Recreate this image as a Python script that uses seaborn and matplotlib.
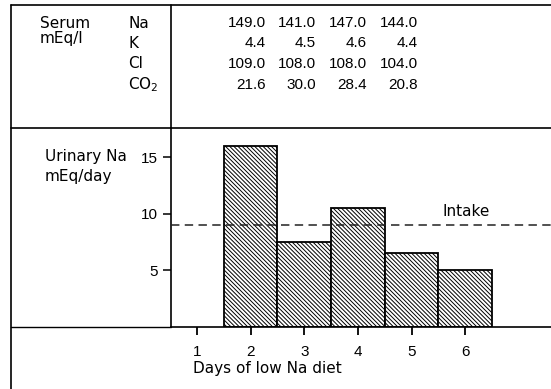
import matplotlib
matplotlib.use("Agg")
import matplotlib.pyplot as plt
import seaborn as sns
import pandas as pd
from matplotlib.lines import Line2D

# ---- data ----
days = [2, 3, 4, 5, 6]
urinary_na = [16.0, 7.5, 10.5, 6.5, 5.0]
intake = 9.0
x_ticks = [1, 2, 3, 4, 5, 6]
y_ticks = [5, 10, 15]
serum_labels = ["Na", "K", "Cl", "CO$_2$"]
serum_na = ["149.0", "141.0", "147.0", "144.0"]
serum_k = ["4.4", "4.5", "4.6", "4.4"]
serum_cl = ["109.0", "108.0", "108.0", "104.0"]
serum_co2 = ["21.6", "30.0", "28.4", "20.8"]

W, H = 551, 389
sns.set_theme(style="white")
plt.rcParams['font.family'] = ['Liberation Sans', 'DejaVu Sans']
plt.rcParams['hatch.linewidth'] = 0.7
plt.rcParams['mathtext.fontset'] = 'dejavusans'
plt.rcParams['text.color'] = 'black'
plt.rcParams['axes.labelcolor'] = 'black'
plt.rcParams['xtick.color'] = 'black'
plt.rcParams['ytick.color'] = 'black'
FS_NUM = 11
FS_TXT = 11
WORD = ['DejaVu Sans']

fig = plt.figure(figsize=(W / 100, H / 100), dpi=100)
fig.patch.set_facecolor("white")


def fx(px):
    return px / W


def fy(py):
    return 1 - py / H


x0, x1 = 171, 551
y_top, y_bot = 128, 327
ax = fig.add_axes([fx(x0), fy(y_bot), fx(x1) - fx(x0), fy(y_top) - fy(y_bot)])
ax.set_facecolor("none")

df = pd.DataFrame({"day": days, "na": urinary_na})
sns.barplot(data=df, x="day", y="na", native_scale=True, width=1.0,
            color="white", edgecolor="black", linewidth=1.3,
            hatch="\\" * 8, errorbar=None, ax=ax, zorder=2)
for p in ax.patches:
    p.set_facecolor("white")

ax.axhline(intake, color="#222222", lw=1.1, ls=(0, (5.5, 3.5)), zorder=3)

ax.set_xlim(0.515, 7.6)
ax.set_ylim(0, 17.56)
ax.set_xticks(x_ticks)
ax.set_xticklabels([str(t) for t in x_ticks])
ax.set_yticks(y_ticks)
ax.set_yticklabels([str(t) for t in y_ticks])
ax.tick_params(axis="y", direction="out", length=6, width=1.1, pad=3.5,
               labelsize=FS_NUM, colors="black", left=True)
ax.tick_params(axis="x", direction="out", length=5.5, width=1.3, pad=7.5,
               labelsize=FS_NUM, colors="black", bottom=True)
ax.set_xlabel("")
ax.set_ylabel("")
for s in ["top", "right"]:
    ax.spines[s].set_visible(False)
for s in ["left", "bottom"]:
    ax.spines[s].set_color("black")
    ax.spines[s].set_linewidth(1.2)

fig.text(fx(443), fy(212), "Intake", fontsize=FS_TXT, family=WORD,
         ha="left", va="center")

# frame lines
def fline(xa, ya, xb, yb, lw=1.2):
    fig.add_artist(Line2D([fx(xa), fx(xb)], [fy(ya), fy(yb)],
                          color="black", lw=lw, transform=fig.transFigure))

fline(11, 5, 551, 5)        # top
fline(11, 5, 11, 389)       # left outer
fline(171, 5, 171, 128)     # divider in table
fline(11, 128, 551, 128)    # separator
fline(11, 327, 171, 327, lw=1.0)  # axis extension left

# table text
rows_y = [23, 43, 64, 85]
cols_x = [266, 316, 367, 418]
fig.text(fx(40), fy(23), "Serum", fontsize=FS_TXT, family=WORD, ha="left", va="center")
fig.text(fx(40), fy(39), "mEq/l", fontsize=FS_TXT, family=WORD, ha="left", va="center")
for lab, yy in zip(serum_labels, rows_y):
    fig.text(fx(128), fy(yy), lab, fontsize=FS_TXT, family=WORD, ha="left", va="center")
for vals, yy in zip([serum_na, serum_k, serum_cl, serum_co2], rows_y):
    for v, xx in zip(vals, cols_x):
        fig.text(fx(xx), fy(yy), v, fontsize=FS_NUM, ha="right", va="center")

fig.text(fx(45), fy(157), "Urinary Na", fontsize=FS_TXT, family=WORD, ha="left", va="center")
fig.text(fx(45), fy(176), "mEq/day", fontsize=FS_TXT, family=WORD, ha="left", va="center")
fig.text(fx(193), fy(369), "Days of low Na diet", fontsize=FS_TXT, family=WORD,
         ha="left", va="center")

fig.savefig("out.png", dpi=100, facecolor="white")
